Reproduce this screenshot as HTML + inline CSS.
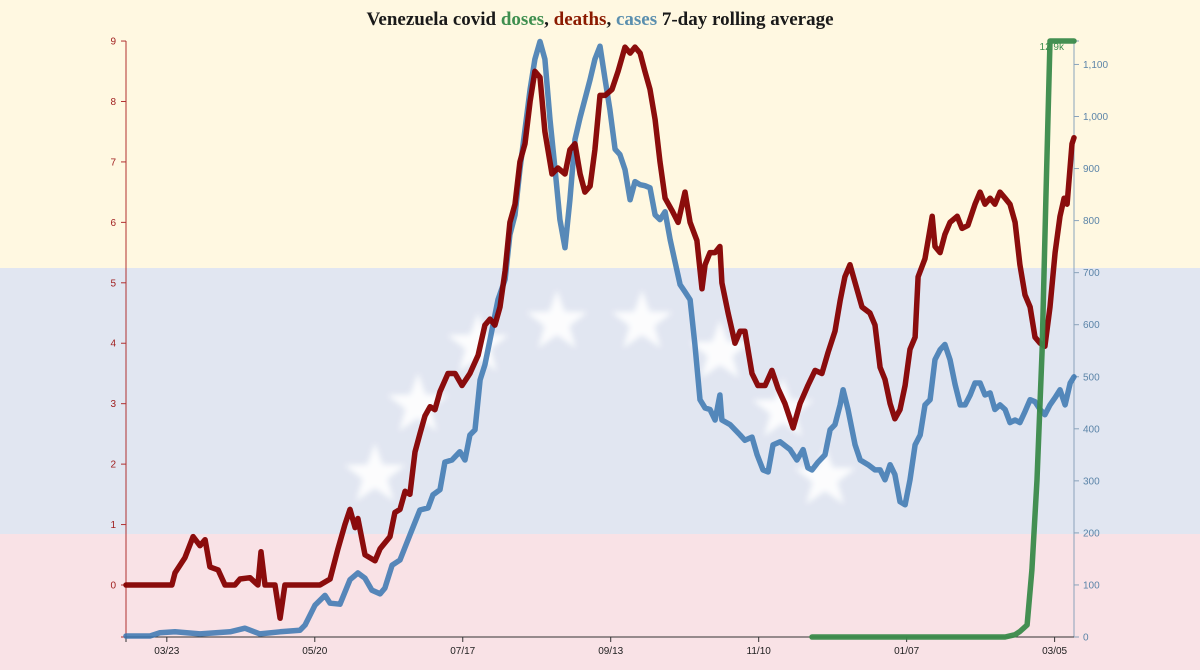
<!DOCTYPE html>
<html><head><meta charset="utf-8"><style>
html,body{margin:0;padding:0;width:1200px;height:670px;overflow:hidden;background:#fff8e1}
svg{display:block}
text{font-family:"Liberation Sans",sans-serif}
</style></head><body>
<svg id="chart" width="1200" height="670" xmlns="http://www.w3.org/2000/svg">
<defs><filter id="blur" x="-50%" y="-50%" width="200%" height="200%"><feGaussianBlur stdDeviation="3"/></filter></defs>
<rect x="0" y="0" width="1200" height="268" fill="#fff8e1"/>
<rect x="0" y="268" width="1200" height="266" fill="#e1e6f1"/>
<rect x="0" y="534" width="1200" height="136" fill="#f9e2e6"/>
<g id="stars" filter="url(#blur)" fill="#ffffff" opacity="0.9"></g>
<text x="600" y="25" text-anchor="middle" font-family="Liberation Serif,serif" font-weight="bold" font-size="19" fill="#1a1a1a" style="font-family:'Liberation Serif',serif">Venezuela covid <tspan fill="#3f8f4f">doses</tspan>, <tspan fill="#8b1a00">deaths</tspan>, <tspan fill="#5b8fae">cases</tspan> 7-day rolling average</text>
<g id="axes"></g>
<g id="series"></g>
</svg>
<script>
const deathDays=[0,18,19.2,23.1,26.3,29,31,32.9,36.1,38.8,42.7,44.7,48.6,51.7,52.9,54.5,58.4,60.4,62.3,76,80,83.1,85.8,87.8,89.8,90.9,93.7,97.6,99.6,103.5,105.4,107.4,109.4,111.3,113.3,115.2,117.2,119.2,121.1,123.1,126.2,129,131.7,134.8,138,140.7,142.7,144.6,146.6,148.6,150.5,152.5,154.4,156.4,158.4,160.3,162.3,164.2,167,169.3,172.1,174,176,178,179.9,181.9,183.8,185.8,187.8,190.5,192.9,195.6,197.6,199.5,201.5,203.4,205.4,207.4,209.3,211.3,214,216.4,219.1,221.1,223.8,225.8,227,228.9,230.9,232.8,233.6,236,238.7,240.7,242.6,245.4,247.7,250.5,253.2,255.6,258.3,261.5,264.2,267.3,270.1,272.8,275.2,277.9,279.9,281.8,283.8,285.8,288.5,291.6,293.6,295.6,297.5,299.5,301.4,303.4,305.4,307.3,309.3,310.5,313.2,316,317.1,319.1,321,323,325.8,327.7,330,332.8,334.8,336.7,338.7,340.6,342.6,344.6,346.5,348.5,350.4,352.4,354.4,356.3,358.3,360.2,362.2,364.2,366.1,367.7,368.9,370.8,371.6];
const deathValues=[0,0,0.2,0.45,0.8,0.65,0.75,0.3,0.25,0,0,0.1,0.12,0,0.55,0,0,-0.55,0,0,0.1,0.6,1.0,1.25,0.95,1.1,0.5,0.4,0.6,0.8,1.2,1.25,1.55,1.5,2.2,2.5,2.8,2.95,2.9,3.2,3.5,3.5,3.3,3.5,3.8,4.3,4.4,4.3,4.6,5.2,6.0,6.3,7.0,7.3,8.0,8.5,8.4,7.5,6.8,6.9,6.8,7.2,7.3,6.8,6.5,6.6,7.2,8.1,8.1,8.2,8.5,8.9,8.8,8.9,8.8,8.5,8.2,7.7,7.0,6.4,6.2,6.0,6.5,6.0,5.7,4.9,5.3,5.5,5.5,5.6,5.0,4.5,4.0,4.2,4.2,3.5,3.3,3.3,3.55,3.25,3.0,2.6,3.0,3.3,3.55,3.5,3.85,4.2,4.7,5.1,5.3,5.0,4.6,4.5,4.3,3.6,3.4,3.0,2.75,2.9,3.3,3.9,4.1,5.1,5.4,6.1,5.6,5.5,5.8,6.0,6.1,5.9,5.95,6.3,6.5,6.3,6.4,6.3,6.5,6.4,6.3,6.0,5.3,4.8,4.6,4.1,4.0,3.95,4.6,5.5,6.1,6.4,6.3,7.3,7.4];
const caseDays=[0,9.4,13.3,19.2,29,40.8,46.6,52.5,60.4,68.2,70.2,74.1,78,80,83.9,87.8,90.9,93.7,96.4,99.6,101.5,104.3,107.4,111.3,115.2,118.4,120.3,123.1,125,127.8,130.9,132.9,134.8,136.8,138.8,140.7,142.7,145.8,148.6,150.5,152.5,154.4,156.4,158.4,160.3,162.3,164.2,166.2,168.2,170.1,172.1,174,176,178,179.9,181.9,183.8,185.8,187.8,189.7,191.7,193.6,195.6,197.6,199.5,201.5,203.4,205.4,207.4,209.3,211.3,213.3,215.2,217.2,219.1,221.1,223,225,227,228.9,230.9,232.8,233.6,236.8,240.7,242.6,245.4,247.4,249.7,251.7,253.6,256.4,260.3,263,265.4,267.3,268.9,271.3,274,276,277.9,279.9,281.1,283,285.8,287.8,290.9,293.6,295.6,297.5,299.5,301.4,303.4,305.4,307.3,309.3,311.3,313.2,315.2,317.1,319.1,321,323,325,327,328.9,330.9,332.8,334.8,336.7,338.7,340.6,342.6,344.6,346.5,348.5,350.4,352.4,354.4,356.3,358.3,360.2,362.2,364.2,366.1,368.1,370.1,371.6];
const caseValues=[2,2,8,10,6,10,17,6,10,13,23,61,80,65,63,110,123,113,90,83,94,138,148,196,244,248,273,283,336,340,356,340,388,398,494,523,571,648,687,773,811,898,975,1052,1110,1144,1110,994,898,802,748,840,956,998,1033,1071,1110,1135,1071,1013,937,927,898,840,875,869,867,863,811,802,817,763,721,677,663,648,562,456,440,437,417,465,417,408,388,378,384,350,321,317,369,375,360,340,360,325,321,336,350,398,408,446,475,437,369,340,331,321,321,302,331,312,260,254,302,369,388,446,456,533,552,562,533,485,446,446,465,488,488,465,469,437,446,437,412,417,412,433,456,452,437,427,446,460,475,446,488,500];
const doseDays=[268.9,344.6,348.5,350.4,353.2,355.1,357.1,359.1,360.6,362.2,371.6];
const doseValues=[0,0,0.05,0.12,0.26,1.45,3.4,6.2,9.5,12.9,12.9];
const xTickLabels=["03/23","05/20","07/17","09/13","11/10","01/07","03/05"];
const xTickDays=[16,74,132,190,248,306,364];
const deathTicks=[0,1,2,3,4,5,6,7,8,9];
const caseTicks=[0,100,200,300,400,500,600,700,800,900,1000,1100];

const NS="http://www.w3.org/2000/svg";
const X0=126,X1=1074,YT=41,YB=637,DAYS=371.6;
const xs=d=>X0+(d/DAYS)*(X1-X0);
const yD=v=>585-v*60.44;
const yC=v=>637-v*0.5205;
const yV=v=>637-(v/12.9)*(637-41);
function mk(tag,attrs,parent){const e=document.createElementNS(NS,tag);for(const k in attrs)e.setAttribute(k,attrs[k]);parent.appendChild(e);return e;}
const axes=document.getElementById('axes'),series=document.getElementById('series'),stars=document.getElementById('stars');

// stars
const starPos=[[375,475],[418,405],[478,345],[557,322],[642,322],[720,352],[783,410],[825,478]];
starPos.forEach(([cx,cy])=>{let p=[];for(let i=0;i<10;i++){const r=i%2?13:32,a=-Math.PI/2+i*Math.PI/5;p.push((cx+r*Math.cos(a)).toFixed(1)+','+(cy+r*Math.sin(a)).toFixed(1));}
const s=mk('polygon',{points:p.join(' ')},stars);

});

// left axis
const la=mk('line',{x1:X0,y1:YT,x2:X0,y2:YB,stroke:'#b03030','stroke-width':1},axes);


deathTicks.forEach(t=>{const y=yD(t);mk('line',{x1:X0-5,y1:y,x2:X0,y2:y,stroke:'#b03030'},axes);
const tx=mk('text',{x:X0-10,y:y+3.5,'text-anchor':'end','font-size':10,fill:'#a02020'},axes);tx.textContent=t;

});
mk('line',{x1:X0-5,y1:YB,x2:X0,y2:YB,stroke:'#b03030'},axes);
// right axis
const ra=mk('line',{x1:X1,y1:YT,x2:X1,y2:YB,stroke:'#8aa3bb','stroke-width':1},axes);


caseTicks.forEach(t=>{const y=yC(t);mk('line',{x1:X1,y1:y,x2:X1+5,y2:y,stroke:'#8aa3bb'},axes);
const tx=mk('text',{x:X1+9,y:y+3.5,'font-size':10,fill:'#5b84a8'},axes);tx.textContent=t.toLocaleString('en-US');

});
mk('line',{x1:X1,y1:YT,x2:X1+5,y2:YT,stroke:'#8aa3bb'},axes);
const dl=mk('text',{x:X1-10,y:50,'text-anchor':'end','font-size':10,fill:'#3f8f4f'},axes);dl.textContent='12.9k';


// x axis
const xa=mk('line',{x1:X0,y1:YB,x2:X1,y2:YB,stroke:'#333','stroke-width':1},axes);


mk('line',{x1:X0,y1:YB,x2:X0,y2:YB+5,stroke:'#333'},axes);
xTickLabels.forEach((l,i)=>{const x=xs(xTickDays[i]);mk('line',{x1:x,y1:YB,x2:x,y2:YB+5,stroke:'#333'},axes);
const tx=mk('text',{x:x,y:YB+17,'text-anchor':'middle','font-size':10,fill:'#222'},axes);tx.textContent=l;

});

function line(days,vals,yf,color,name,op){const d=days.map((dd,i)=>(i?'L':'M')+xs(dd).toFixed(1)+','+yf(vals[i]).toFixed(1)).join('');
const p=mk('path',{d:d,fill:'none',stroke:color,'stroke-width':5.5,'stroke-linejoin':'round','stroke-linecap':'round',opacity:op},series);

}
line(caseDays,caseValues,yC,'#3a76b0','cases-line',0.85);
line(deathDays,deathValues,yD,'#850000','deaths-line',0.95);
line(doseDays,doseValues,yV,'#3a8a4a','doses-line',0.95);
</script>
</body></html>
